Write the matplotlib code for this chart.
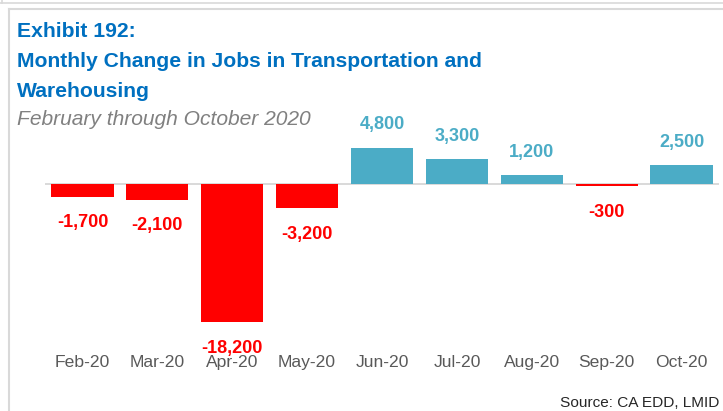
import matplotlib
matplotlib.use("Agg")
import matplotlib.pyplot as plt
from matplotlib.lines import Line2D

# Monthly change in transportation & warehousing jobs, 2020
months = ["Feb-20", "Mar-20", "Apr-20", "May-20", "Jun-20",
          "Jul-20", "Aug-20", "Sep-20", "Oct-20"]
job_change = [-1700, -2100, -18200, -3200, 4800, 3300, 1200, -300, 2500]

title_lines = ["Exhibit 192:",
               "Monthly Change in Jobs in Transportation and",
               "Warehousing"]
subtitle = "February through October 2020"
source_note = "Source: CA EDD, LMID"

BLUE = "#4BACC6"
RED = "#FF0000"
TITLE_BLUE = "#0070C0"
plt.rcParams["font.family"] = ["Liberation Sans", "DejaVu Sans"]

W, H = 723, 411
fig = plt.figure(figsize=(W / 100, H / 100), dpi=100)


def fx(px):
    return px / W


def fy(py):
    return 1 - py / H


# panel frame lines
frame = "#D9D9D9"
fig.add_artist(Line2D([0, 1], [fy(3), fy(3)], color=frame, lw=1.2))
fig.add_artist(Line2D([fx(2), fx(2)], [1, fy(3)], color=frame, lw=1.2))
fig.add_artist(Line2D([fx(8.5), 1], [fy(9.5), fy(9.5)], color=frame, lw=1.5))
fig.add_artist(Line2D([fx(8.5), fx(8.5)], [fy(9.5), 0], color=frame, lw=1.5))

# plot area
y_lo, y_hi = -21000, 11000
px_per_unit = 7.6 / 1000
zero_px = 184
top_px = zero_px - y_hi * px_per_unit
bot_px = zero_px - y_lo * px_per_unit
ax = fig.add_axes([fx(45), fy(bot_px), fx(719) - fx(45), (bot_px - top_px) / H])
ax.set_xlim(-0.5, len(months) - 0.5)
ax.set_ylim(y_lo, y_hi)

x = list(range(len(months)))
colors = [BLUE if v >= 0 else RED for v in job_change]
ax.bar(x, job_change, width=0.83, color=colors, zorder=2)
ax.axhline(0, color="#D9D9D9", lw=1.4, zorder=1)

for xi, v, c in zip(x, job_change, colors):
    label = f"{v:,}"
    if v >= 0:
        ax.annotate(label, (xi, v), xytext=(0, 13), textcoords="offset points",
                    ha="center", va="baseline", color=c, fontsize=13,
                    fontweight="bold")
    else:
        ax.annotate(label, (xi, v), xytext=(0, -12.5), textcoords="offset points",
                    ha="center", va="top", color=c, fontsize=13,
                    fontweight="bold")

ax.set_xticks(x)
ax.set_xticklabels(months, fontsize=12.6, color="#595959")
ax.tick_params(axis="x", length=0, pad=8.5)
ax.set_yticks([])
for s in ax.spines.values():
    s.set_visible(False)

# titles
for i, line in enumerate(title_lines):
    fig.text(fx(17), fy(37 + i * 30), line, color=TITLE_BLUE, fontsize=15.2,
             fontweight="bold", ha="left", va="baseline")
fig.text(fx(17), fy(125), subtitle, color="#808080", fontsize=15.1,
         fontstyle="italic", ha="left", va="baseline")
fig.text(fx(719), fy(407), source_note, color="#262626", fontsize=11.1,
         ha="right", va="baseline")

fig.savefig("out.png", dpi=100)
